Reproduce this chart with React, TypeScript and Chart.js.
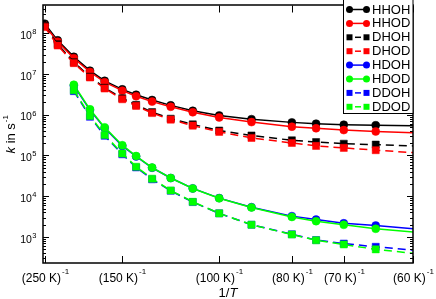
import React, { useEffect, useRef } from "react";
import { Chart, registerables } from "chart.js";

Chart.register(...registerables);

// Temperatures (K); x value is 1/T
const temps = [250, 225, 200, 180, 165, 150, 140, 130, 120, 110, 100, 90, 80, 75, 70, 65, 60];

const HHOH = [1.72e8, 6.7e7, 2.64e7, 1.21e7, 6.8e6, 4.2e6, 3.1e6, 2.3e6, 1.7e6, 1.25e6, 9.6e5, 7.8e5, 6.5e5, 6.05e5, 5.7e5, 5.5e5, 5.4e5];
const HHOD = [1.55e8, 6.2e7, 2.45e7, 1.12e7, 6.3e6, 3.9e6, 2.85e6, 2.1e6, 1.57e6, 1.15e6, 8.6e5, 6.6e5, 5.1e5, 4.65e5, 4.2e5, 3.9e5, 3.6e5];
const DHOH = [1.5e8, 5.4e7, 1.95e7, 8.6e6, 4.6e6, 2.55e6, 1.75e6, 1.16e6, 8.0e5, 5.8e5, 4.1e5, 3.1e5, 2.36e5, 2.14e5, 1.95e5, 1.85e5, 1.72e5];
const DHOD = [1.42e8, 5.0e7, 1.85e7, 8.2e6, 4.4e6, 2.4e6, 1.65e6, 1.1e6, 7.6e5, 5.4e5, 3.8e5, 2.7e5, 2.03e5, 1.72e5, 1.54e5, 1.35e5, 1.18e5];
const HDOH = [null, null, 5.2e6, 1.3e6, 4.7e5, 1.72e5, 9.5e4, 5.0e4, 2.8e4, 1.56e4, 9.0e3, 5.4e3, 3.25e3, 2.67e3, 2.17e3, 1.91e3, 1.59e3];
const HDOD = [null, null, 5.45e6, 1.36e6, 4.9e5, 1.79e5, 9.7e4, 5.06e4, 2.8e4, 1.55e4, 8.9e3, 5.3e3, 3.1e3, 2.45e3, 1.99e3, 1.59e3, 1.32e3];
const DDOH = [null, null, 3.8e6, 8.9e5, 3.05e5, 1.07e5, 5.1e4, 2.6e4, 1.36e4, 7.2e3, 3.8e3, 2.0e3, 1.17e3, 8.4e2, 6.9e2, 5.74e2, 4.77e2];
const DDOD = [null, null, 4.0e6, 9.4e5, 3.2e5, 1.12e5, 5.3e4, 2.7e4, 1.39e4, 7.3e3, 3.8e3, 2.0e3, 1.15e3, 8.3e2, 6.56e2, 4.97e2, 3.98e2];

const seriesNames = ["HHOH", "HHOD", "DHOH", "DHOD", "HDOH", "HDOD", "DDOH", "DDOD"];
const seriesValues = [HHOH, HHOD, DHOH, DHOD, HDOH, HDOD, DDOH, DDOD];
const seriesColors = ["#000000", "#ff0000", "#000000", "#ff0000", "#0000ff", "#00ff00", "#0000ff", "#00ff00"];
const seriesDashed = [false, false, true, true, false, false, true, true];

const xTickTemps = [250, 150, 100, 80, 70, 60];
const yTickExps = [3, 4, 5, 6, 7, 8];

const FONT = "'Liberation Sans', Arial, Helvetica, sans-serif";

const axesPlugin = {
  id: "customAxes",
  afterDraw(chart: any) {
    const ctx = chart.ctx as CanvasRenderingContext2D;
    const { left, right, top, bottom } = chart.chartArea;
    const x = chart.scales.x;
    const y = chart.scales.y;
    ctx.save();
    ctx.strokeStyle = "#000";
    ctx.fillStyle = "#000";

    // frame
    ctx.lineWidth = 1.5;
    ctx.strokeRect(left, top - 0.5, right - left, bottom - top + 0.5);

    // x ticks
    ctx.lineWidth = 1;
    xTickTemps.forEach((t) => {
      const px = Math.round(x.getPixelForValue(1 / t)) + 0.5;
      ctx.beginPath();
      ctx.moveTo(px, bottom);
      ctx.lineTo(px, bottom - 7);
      ctx.moveTo(px, top);
      ctx.lineTo(px, top + 7);
      ctx.stroke();
      const main = "(" + t + " K)";
      const sup = "-1";
      ctx.font = "12px " + FONT;
      const w1 = ctx.measureText(main).width;
      ctx.font = "8px " + FONT;
      const w2 = ctx.measureText(sup).width;
      const start = px - (w1 + w2 + 1) / 2;
      ctx.textAlign = "left";
      ctx.textBaseline = "alphabetic";
      ctx.font = "12px " + FONT;
      ctx.fillText(main, start, 282);
      ctx.font = "8px " + FONT;
      ctx.fillText(sup, start + w1 + 1, 274);
    });

    // y ticks
    const yMin = y.min, yMax = y.max;
    for (let e = 2; e <= 8; e++) {
      for (let k = 1; k <= 9; k++) {
        const v = k * Math.pow(10, e);
        if (v < yMin || v > yMax) continue;
        const py = Math.round(y.getPixelForValue(v)) + 0.5;
        const len = k === 1 ? 6 : 3;
        ctx.beginPath();
        ctx.moveTo(left, py);
        ctx.lineTo(left + len, py);
        ctx.moveTo(right, py);
        ctx.lineTo(right - len, py);
        ctx.stroke();
      }
    }
    yTickExps.forEach((e) => {
      const py = y.getPixelForValue(Math.pow(10, e));
      ctx.font = "7.5px " + FONT;
      const sw = ctx.measureText(String(e)).width;
      const endX = 36.5;
      ctx.textAlign = "right";
      ctx.fillText(String(e), endX, py + 0.8);
      ctx.font = "10.5px " + FONT;
      ctx.fillText("10", endX - sw - 0.5, py + 5.7);
    });

    // x title
    ctx.font = "13px " + FONT;
    const a = "1/";
    const wa = ctx.measureText(a).width;
    ctx.font = "italic 13px " + FONT;
    const wb = ctx.measureText("T").width;
    const cx = (left + right) / 2;
    ctx.textAlign = "left";
    ctx.font = "13px " + FONT;
    ctx.fillText(a, cx - (wa + wb) / 2, 297);
    ctx.font = "italic 13px " + FONT;
    ctx.fillText("T", cx - (wa + wb) / 2 + wa, 297);

    // y title (rotated)
    ctx.save();
    ctx.translate(15, (top + bottom) / 2);
    ctx.rotate(-Math.PI / 2);
    ctx.font = "italic 13px " + FONT;
    const wk = ctx.measureText("k").width;
    ctx.font = "13px " + FONT;
    const wr = ctx.measureText(" in s").width;
    ctx.font = "8px " + FONT;
    const ws = ctx.measureText("-1").width;
    const total = wk + wr + ws + 1;
    let sx = -total / 2;
    ctx.textAlign = "left";
    ctx.font = "italic 13px " + FONT;
    ctx.fillText("k", sx, 0);
    sx += wk;
    ctx.font = "13px " + FONT;
    ctx.fillText(" in s", sx, 0);
    sx += wr + 1;
    ctx.font = "8px " + FONT;
    ctx.fillText("-1", sx, -7);
    ctx.restore();

    // legend
    const lx = 343.5, lr = right, ly = -1, lb = 113.5;
    ctx.fillStyle = "#fff";
    ctx.fillRect(lx, ly, lr - lx, lb - ly);
    ctx.strokeStyle = "#000";
    ctx.lineWidth = 1;
    ctx.strokeRect(lx, ly, lr - lx, lb - ly);
    seriesNames.forEach((name, i) => {
      const ry = 9.5 + i * 13.9;
      const col = seriesColors[i];
      const x1 = 349.5, x2 = 366.5;
      ctx.strokeStyle = col;
      ctx.fillStyle = col;
      ctx.lineWidth = 1.5;
      ctx.beginPath();
      if (seriesDashed[i]) {
        ctx.moveTo(355, ry);
        ctx.lineTo(361, ry);
      } else {
        ctx.moveTo(x1, ry);
        ctx.lineTo(x2, ry);
      }
      ctx.stroke();
      [x1, x2].forEach((mx) => {
        ctx.beginPath();
        if (seriesDashed[i]) {
          ctx.rect(mx - 3, ry - 3, 6, 6);
        } else {
          ctx.arc(mx, ry, 3.5, 0, Math.PI * 2);
        }
        ctx.fill();
      });
      ctx.fillStyle = "#000";
      ctx.font = "13px " + FONT;
      ctx.textAlign = "left";
      ctx.textBaseline = "middle";
      ctx.fillText(name, 372, ry + 0.5);
      ctx.textBaseline = "alphabetic";
    });

    ctx.restore();
  },
};

export default function App() {
  const canvasRef = useRef<HTMLCanvasElement | null>(null);

  useEffect(() => {
    document.body.style.margin = "0";
    const canvas = canvasRef.current;
    if (!canvas) return;
    const datasets = seriesNames.map((name, i) => {
      const vals = seriesValues[i];
      const data = temps
        .map((t, j) => ({ x: 1 / t, y: vals[j] as number | null }))
        .filter((p) => p.y != null);
      const last = data.length - 1;
      const dashed = seriesDashed[i];
      return {
        label: name,
        data,
        borderColor: seriesColors[i],
        backgroundColor: seriesColors[i],
        borderWidth: 1.5,
        borderDash: dashed ? [8, 5] : [],
        pointStyle: dashed ? "rect" : "circle",
        pointRadius: (c: any) => (c.dataIndex === last ? 0 : dashed ? 5 : 4),
        pointBorderWidth: 0.5,
        pointBorderColor: seriesColors[i],
        pointBackgroundColor: seriesColors[i],
        fill: false,
        tension: 0,
        order: 8 - i,
      };
    });
    const chart = new Chart(canvas, {
      type: "line",
      data: { datasets: datasets as any },
      options: {
        responsive: false,
        maintainAspectRatio: false,
        animation: false,
        layout: { padding: { left: 43, right: 23, top: 1, bottom: 36 } },
        plugins: { legend: { display: false }, tooltip: { enabled: false } },
        scales: {
          x: { type: "linear", min: 0.00394, max: 1 / 60, display: false },
          y: { type: "logarithmic", min: 230, max: 4.8e8, display: false },
        },
      },
      plugins: [axesPlugin],
    });
    return () => chart.destroy();
  }, []);

  return (
    <canvas
      ref={canvasRef}
      width={436}
      height={299}
      style={{ position: "absolute", left: 0, top: 0, width: 436, height: 299 }}
    />
  );
}
